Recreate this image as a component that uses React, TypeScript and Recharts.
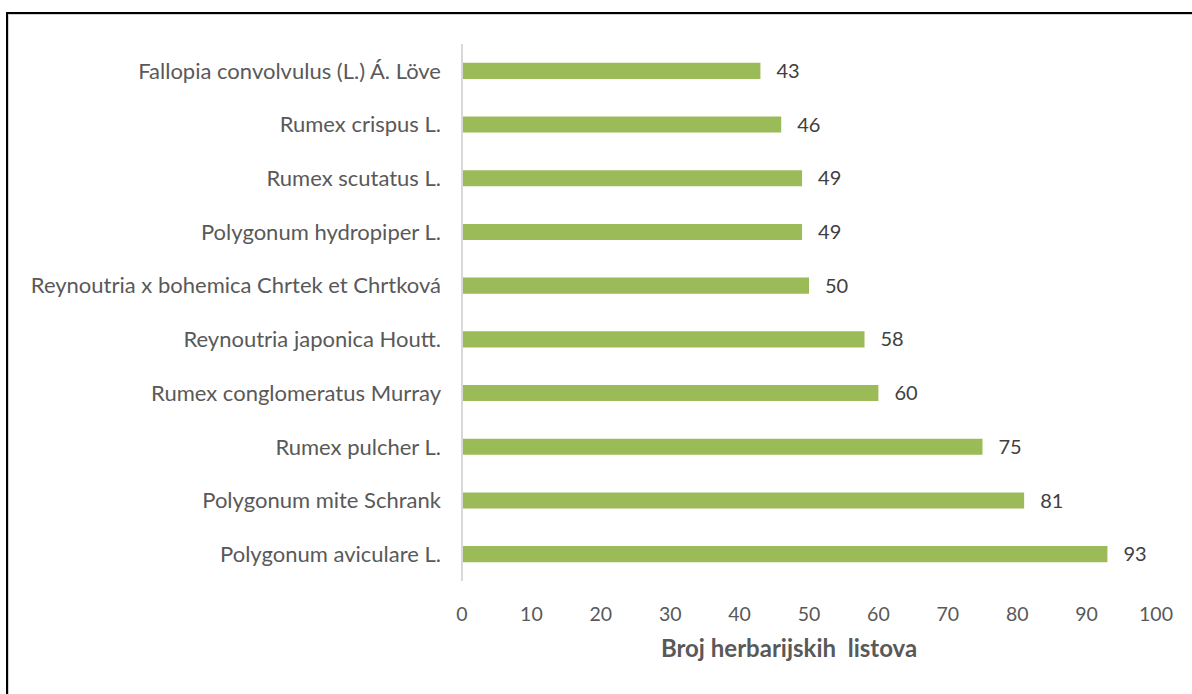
import React from "react";
import { BarChart, Bar, XAxis, YAxis, LabelList, Label } from "recharts";

const categories = [
  "Fallopia convolvulus (L.) Á. Löve",
  "Rumex crispus L.",
  "Rumex scutatus L.",
  "Polygonum hydropiper L.",
  "Reynoutria x bohemica Chrtek et Chrtková",
  "Reynoutria japonica Houtt.",
  "Rumex conglomeratus Murray",
  "Rumex pulcher L.",
  "Polygonum mite Schrank",
  "Polygonum aviculare L.",
];
const values = [43, 46, 49, 49, 50, 58, 60, 75, 81, 93];
const xTicks = [0, 10, 20, 30, 40, 50, 60, 70, 80, 90, 100];
const axisTitle = "Broj herbarijskih\u00a0 listova";

const data = categories.map((name, i) => ({ name, value: values[i] }));

const FONT = "Lato, 'Open Sans', sans-serif";

export default function App() {
  return (
    <div style={{ position: "absolute", left: 0, top: 0, width: 1192, height: 694, background: "#fff" }}>
      <div
        style={{
          position: "absolute",
          left: 6,
          top: 12,
          width: 1192,
          height: 694,
          borderTop: "2px solid #000",
          borderLeft: "2px solid #000",
          boxShadow: "inset 1px 1px 0 #d0d0d0",
        }}
      />
      <div style={{ position: "absolute", left: 0, top: 0 }}>
        <BarChart
          width={1192}
          height={694}
          data={data}
          layout="vertical"
          margin={{ top: 44, right: 36, bottom: 33, left: 12 }}
          barCategoryGap="65%"
        >
          <XAxis
            type="number"
            domain={[0, 100]}
            ticks={xTicks}
            axisLine={false}
            tickLine={false}
            tickSize={0}
            tickMargin={26}
            height={80}
            tick={{ fill: "#595959", fontSize: 19.5, fontFamily: FONT }}
          >
            <Label
              value={axisTitle}
              position="insideBottom"
              offset={4}
              dx={-20}
              style={{ fill: "#595959", fontSize: 24, fontWeight: 700, fontFamily: FONT }}
            />
          </XAxis>
          <YAxis
            type="category"
            dataKey="name"
            width={450}
            axisLine={{ stroke: "#d9d9d9", strokeWidth: 2 }}
            tickLine={false}
            tickSize={0}
            tickMargin={21}
            interval={0}
            tick={{ fill: "#595959", fontSize: 22, fontFamily: FONT }}
          />
          <Bar dataKey="value" fill="#9BBB59" isAnimationActive={false}>
            <LabelList
              dataKey="value"
              position="right"
              offset={16}
              style={{ fill: "#404040", fontSize: 20, fontFamily: FONT }}
            />
          </Bar>
        </BarChart>
      </div>
    </div>
  );
}
